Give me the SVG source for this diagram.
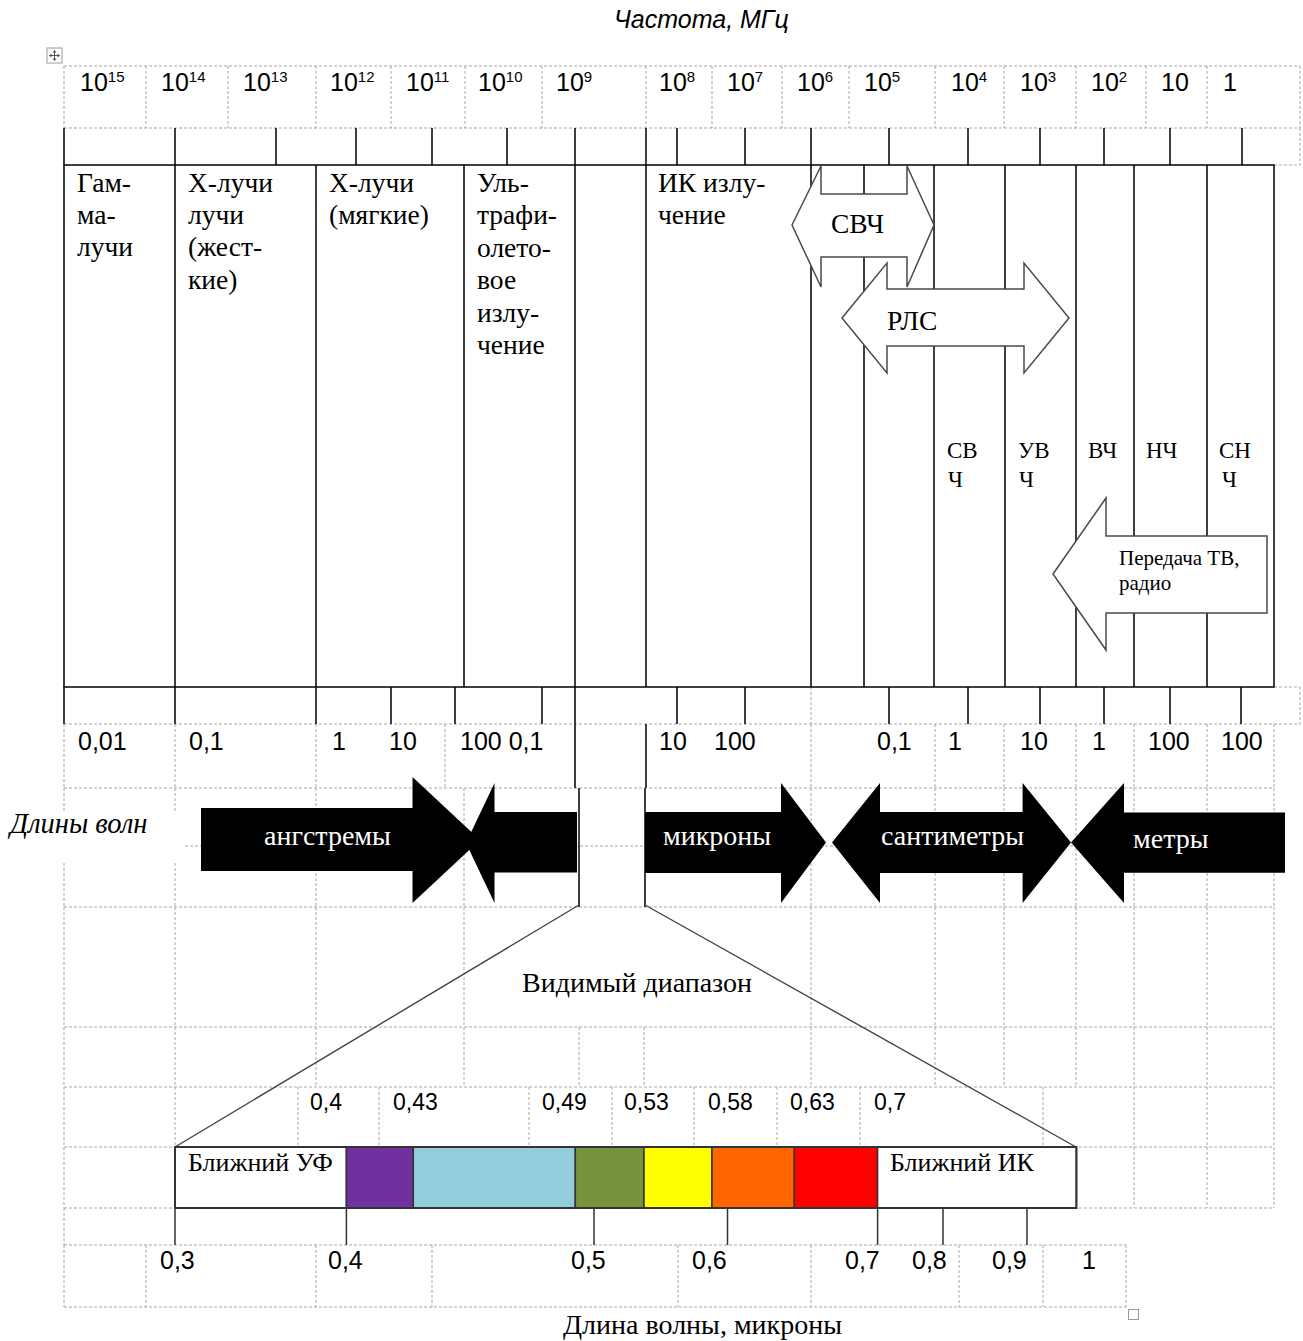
<svg xmlns="http://www.w3.org/2000/svg" width="1303" height="1341" viewBox="0 0 1303 1341">
  <style>
    .dash { fill: none; stroke: #a6a6a6; stroke-width: 1; stroke-dasharray: 3 2; }
    .line { fill: none; stroke: #000; stroke-width: 1.5; }
    .tick { fill: none; stroke: #333; stroke-width: 1.5; }
    .ray { fill: none; stroke: #444; stroke-width: 1.4; }
    .outline { fill: #fff; stroke: #4a4a4a; stroke-width: 1.5; stroke-linejoin: miter; }
    .solidarrow { fill: #000; stroke: none; }
    .cell { stroke: #333; stroke-width: 1.5; }
    .num { font-family: "Liberation Sans", Arial, sans-serif; font-size: 25px; fill: #000; }
    .num-s { font-family: "Liberation Sans", Arial, sans-serif; font-size: 23px; fill: #000; }
    .sup { font-size: 15px; }
    .ser { font-family: "Liberation Serif", "Times New Roman", serif; font-size: 27.5px; fill: #000; }
    .ser-m { font-family: "Liberation Serif", "Times New Roman", serif; font-size: 26px; fill: #000; }
    .ser-l { font-family: "Liberation Serif", "Times New Roman", serif; font-size: 28px; fill: #000; }
    .ser-s { font-family: "Liberation Serif", "Times New Roman", serif; font-size: 23px; fill: #000; }
    .ser-xs { font-family: "Liberation Serif", "Times New Roman", serif; font-size: 21px; fill: #000; }
    .inv { font-family: "Liberation Serif", "Times New Roman", serif; font-size: 28px; fill: #fff; }
    .ital-sans { font-family: "Liberation Sans", Arial, sans-serif; font-style: italic; font-size: 25px; fill: #000; }
    .ital-ser { font-family: "Liberation Serif", "Times New Roman", serif; font-style: italic; font-size: 28.5px; fill: #000; }
  </style>

  <rect width="1303" height="1341" fill="#fff"/>

  <!-- dashed table grid -->
  <g id="grid">
    <path class="dash" d="M64 66 H1300 M64 128 H1300
      M64 66 V128 M146 66 V128 M228 66 V128 M316 66 V128 M391 66 V128 M465 66 V128 M542 66 V128 M646 66 V128
      M712 66 V128 M782 66 V128 M849 66 V128 M935 66 V128 M1004 66 V128 M1076 66 V128 M1146 66 V128 M1207 66 V128 M1300 66 V128
      M1300 128 V165 M1274 165 H1300
      M1274 687 H1300 M1300 687 V724 M811 687 V724 M64 724 H1300
      M64 724 V788 M175 724 V788 M316 724 V788 M445 724 V788 M811 724 V788 M935 724 V788 M1004 724 V788 M1076 724 V788 M1134 724 V788 M1207 724 V788 M1274 724 V788
      M64 788 H1274
      M64 788 V813 M64 863 V907 M175 788 V813 M175 863 V907
      M316 788 V907 M464 788 V907 M811 788 V907 M935 788 V907 M1004 788 V907 M1076 788 V907 M1134 788 V907 M1207 788 V907 M1274 788 V907
      M185 846 H1274 M64 907 H1274
      M64 907 V1027 M175 907 V1027 M316 907 V1027 M464 907 V1027 M811 907 V1027 M935 907 V1027 M1004 907 V1027 M1076 907 V1027 M1134 907 V1027 M1207 907 V1027 M1274 907 V1027
      M64 1027 H1274
      M64 1027 V1087 M175 1027 V1087 M316 1027 V1087 M464 1027 V1087 M579 1027 V1087 M644 1027 V1087 M811 1027 V1087 M935 1027 V1087 M1004 1027 V1087 M1076 1027 V1087 M1134 1027 V1087 M1207 1027 V1087 M1274 1027 V1087
      M64 1087 H1274
      M64 1087 V1147 M175 1087 V1147 M298 1087 V1147 M379 1087 V1147 M529 1087 V1147 M612 1087 V1147 M694 1087 V1147 M777 1087 V1147 M860 1087 V1147 M1043 1087 V1147 M1134 1087 V1147 M1207 1087 V1147 M1274 1087 V1147
      M64 1147 H1274
      M64 1147 V1208 M1134 1147 V1208 M1207 1147 V1208 M1274 1147 V1208
      M64 1208 H1274
      M64 1208 V1245 M64 1245 H1126
      M64 1245 V1307 M146 1245 V1307 M316 1245 V1307 M432 1245 V1307 M678 1245 V1307 M811 1245 V1307 M959 1245 V1307 M1043 1245 V1307 M1126 1245 V1307
      M64 1307 H1126"/>
  </g>

  <!-- table handles -->
  <g id="handles">
    <rect x="47" y="48" width="15" height="15" fill="#fff" stroke="#9a9a9a" stroke-width="1"/>
    <path d="M54.5 50.5 V60.5 M49.5 55.5 H59.5" stroke="#555" stroke-width="1" fill="none"/>
    <path d="M54.5 50 l-2 2.5 h4 z M54.5 61 l-2 -2.5 h4 z M49 55.5 l2.5 -2 v4 z M60 55.5 l-2.5 -2 v4 z" fill="#555"/>
    <rect x="1128.5" y="1309.5" width="10" height="10" fill="#fff" stroke="#9a9a9a" stroke-width="1"/>
  </g>

  <!-- solid table lines -->
  <g id="band-table">
    <path class="line" d="M64 128 V165
      M175 128 V165 M276 128 V165 M356 128 V165 M432 128 V165 M507 128 V165 M575 128 V165 M646 128 V165
      M677 128 V165 M745 128 V165 M811 128 V165 M889 128 V165 M968 128 V165 M1040 128 V165 M1104 128 V165 M1170 128 V165 M1242 128 V165"/>
    <rect class="line" x="64" y="165" width="1210" height="522"/>
    <path class="line" d="M175 165 V687 M316 165 V687 M464 165 V687 M811 165 V687 M864 165 V687 M934 165 V687
      M1005 165 V687 M1076 165 V687 M1134 165 V687 M1207 165 V687
      M575 165 V788 M646 165 V687 M646 724 V788
      M64 687 V724 M175 687 V724 M316 687 V724 M391 687 V724 M455 687 V724 M542 687 V724
      M677 687 V724 M745 687 V724 M889 687 V724 M968 687 V724 M1040 687 V724 M1104 687 V724 M1170 687 V724 M1241 687 V724
      M579 788 V907 M645 788 V907"/>
  </g>

  <!-- frequency scale -->
  <g id="freq-scale">
    <text class="ital-sans" x="614" y="28">Частота, МГц</text>
    <text class="num" x="80" y="91">10<tspan class="sup" dy="-9">15</tspan></text>
    <text class="num" x="161" y="91">10<tspan class="sup" dy="-9">14</tspan></text>
    <text class="num" x="243" y="91">10<tspan class="sup" dy="-9">13</tspan></text>
    <text class="num" x="330" y="91">10<tspan class="sup" dy="-9">12</tspan></text>
    <text class="num" x="406" y="91">10<tspan class="sup" dy="-9">11</tspan></text>
    <text class="num" x="478" y="91">10<tspan class="sup" dy="-9">10</tspan></text>
    <text class="num" x="556" y="91">10<tspan class="sup" dy="-9">9</tspan></text>
    <text class="num" x="659" y="91">10<tspan class="sup" dy="-9">8</tspan></text>
    <text class="num" x="727" y="91">10<tspan class="sup" dy="-9">7</tspan></text>
    <text class="num" x="797" y="91">10<tspan class="sup" dy="-9">6</tspan></text>
    <text class="num" x="864" y="91">10<tspan class="sup" dy="-9">5</tspan></text>
    <text class="num" x="951" y="91">10<tspan class="sup" dy="-9">4</tspan></text>
    <text class="num" x="1020" y="91">10<tspan class="sup" dy="-9">3</tspan></text>
    <text class="num" x="1091" y="91">10<tspan class="sup" dy="-9">2</tspan></text>
    <text class="num" x="1161" y="91">10</text>
    <text class="num" x="1223" y="91">1</text>
  </g>

  <!-- band names -->
  <g id="band-labels">
    <text class="ser" x="77" y="192">Гам-</text>
    <text class="ser" x="77" y="224">ма-</text>
    <text class="ser" x="77" y="256">лучи</text>
    <text class="ser" x="188" y="192">Х-лучи</text>
    <text class="ser" x="188" y="224">лучи</text>
    <text class="ser" x="188" y="256">(жест-</text>
    <text class="ser" x="188" y="289">кие)</text>
    <text class="ser" x="329" y="192">Х-лучи</text>
    <text class="ser" x="329" y="224">(мягкие)</text>
    <text class="ser" x="477" y="192">Уль-</text>
    <text class="ser" x="477" y="224">трафи-</text>
    <text class="ser" x="477" y="257">олето-</text>
    <text class="ser" x="477" y="289">вое</text>
    <text class="ser" x="477" y="322">излу-</text>
    <text class="ser" x="477" y="354">чение</text>
    <text class="ser" x="658" y="192">ИК излу-</text>
    <text class="ser" x="658" y="224">чение</text>
    <text class="ser-s" x="947" y="458">СВ</text>
    <text class="ser-s" x="948" y="487">Ч</text>
    <text class="ser-s" x="1018" y="458">УВ</text>
    <text class="ser-s" x="1019" y="487">Ч</text>
    <text class="ser-s" x="1088" y="458">ВЧ</text>
    <text class="ser-s" x="1146" y="458">НЧ</text>
    <text class="ser-s" x="1219" y="458">СН</text>
    <text class="ser-s" x="1222" y="487">Ч</text>
  </g>

  <!-- usage ranges -->
  <g id="arrow-svch">
    <polygon class="outline" points="792,225 821,166 821,194 907,194 907,166 934,225 907,287 907,257 821,257 821,287"/>
    <text class="ser" x="831" y="233">СВЧ</text>
  </g>
  <g id="arrow-rls">
    <polygon class="outline" points="842,318 887,263 887,289 1024,289 1024,263 1069,318 1024,373 1024,346 887,346 887,373"/>
    <text class="ser" x="887" y="330">РЛС</text>
  </g>
  <g id="arrow-tv">
    <polygon class="outline" points="1053,574 1106,498 1106,536 1267,536 1267,613 1106,613 1106,650"/>
    <text class="ser-xs" x="1119" y="565">Передача ТВ,</text>
    <text class="ser-xs" x="1119" y="590">радио</text>
  </g>

  <!-- wavelength scale -->
  <g id="wave-scale">
    <text class="num" x="78" y="750">0,01</text>
    <text class="num" x="189" y="750">0,1</text>
    <text class="num" x="332" y="750">1</text>
    <text class="num" x="389" y="750">10</text>
    <text class="num" x="460" y="750">100 0,1</text>
    <text class="num" x="659" y="750">10</text>
    <text class="num" x="714" y="750">100</text>
    <text class="num" x="877" y="750">0,1</text>
    <text class="num" x="948" y="750">1</text>
    <text class="num" x="1020" y="750">10</text>
    <text class="num" x="1092" y="750">1</text>
    <text class="num" x="1148" y="750">100</text>
    <text class="num" x="1221" y="750">100</text>
  </g>

  <!-- wavelength units -->
  <g id="units">
    <text class="ital-ser" x="10" y="833">Длины волн</text>
    <g id="unit-angstrom">
      <polygon class="solidarrow" points="201,808 412.5,808 412.5,777 480,840 412.5,903 412.5,871 201,871"/>
      <text class="inv" x="264" y="845">ангстремы</text>
    </g>
    <g id="unit-uv">
      <polygon class="solidarrow" points="577,812 494.5,812 494.5,783 466,843 494.5,903 494.5,872.5 577,872.5"/>
    </g>
    <g id="unit-micron">
      <polygon class="solidarrow" points="645,812 781,812 781,783 826,842.5 781,903 781,873 645,873"/>
      <text class="inv" x="663" y="845">микроны</text>
    </g>
    <g id="unit-cm">
      <polygon class="solidarrow" points="832,842.5 880,783 880,812 1022.6,812 1022.6,783 1071,842.5 1022.6,903 1022.6,873 880,873 880,903"/>
      <text class="inv" x="881" y="845">сантиметры</text>
    </g>
    <g id="unit-m">
      <polygon class="solidarrow" points="1071,842.5 1124,783 1124,812.5 1285,812.5 1285,872.7 1124,872.7 1124,903"/>
      <text class="inv" x="1133" y="848">метры</text>
    </g>
  </g>

  <!-- zoom rays from the visible band to the colour bar -->
  <g id="connectors">
    <path class="ray" d="M579 905 L175 1147 M645 905 L1076 1147"/>
  </g>

  <g id="visible-caption">
    <text class="ser-l" x="522" y="992">Видимый диапазон</text>
  </g>

  <!-- visible spectrum bar -->
  <g id="spectrum">
    <text class="num-s" x="310" y="1110">0,4</text>
    <text class="num-s" x="393" y="1110">0,43</text>
    <text class="num-s" x="542" y="1110">0,49</text>
    <text class="num-s" x="624" y="1110">0,53</text>
    <text class="num-s" x="708" y="1110">0,58</text>
    <text class="num-s" x="790" y="1110">0,63</text>
    <text class="num-s" x="874" y="1110">0,7</text>
    <rect class="cell" x="175" y="1147" width="171.4" height="61" fill="#fff"/>
    <rect class="cell" x="346.4" y="1147" width="66.9" height="61" fill="#7030a0"/>
    <rect class="cell" x="413.3" y="1147" width="162" height="61" fill="#92cddc"/>
    <rect class="cell" x="575.3" y="1147" width="68.7" height="61" fill="#77933c"/>
    <rect class="cell" x="644" y="1147" width="68" height="61" fill="#ffff00"/>
    <rect class="cell" x="712" y="1147" width="82.3" height="61" fill="#ff6600"/>
    <rect class="cell" x="794.3" y="1147" width="83.3" height="61" fill="#ff0000"/>
    <rect class="cell" x="877.6" y="1147" width="198.8" height="61" fill="#fff"/>
    <rect x="175" y="1147" width="901.4" height="61" fill="none" stroke="#333" stroke-width="2"/>
    <text class="ser-m" x="188" y="1171">Ближний УФ</text>
    <text class="ser-m" x="890" y="1171">Ближний ИК</text>
    <path class="tick" d="M175 1208 V1245 M346.4 1208 V1245 M594 1208 V1245 M727.5 1208 V1245 M877.6 1208 V1245 M943 1208 V1245 M1027 1208 V1245"/>
    <text class="num" x="160" y="1269">0,3</text>
    <text class="num" x="328" y="1269">0,4</text>
    <text class="num" x="571" y="1269">0,5</text>
    <text class="num" x="692" y="1269">0,6</text>
    <text class="num" x="845" y="1269">0,7</text>
    <text class="num" x="912" y="1269">0,8</text>
    <text class="num" x="992" y="1269">0,9</text>
    <text class="num" x="1082" y="1269">1</text>
    <text class="ser-l" x="563" y="1334">Длина волны, микроны</text>
  </g>
</svg>
